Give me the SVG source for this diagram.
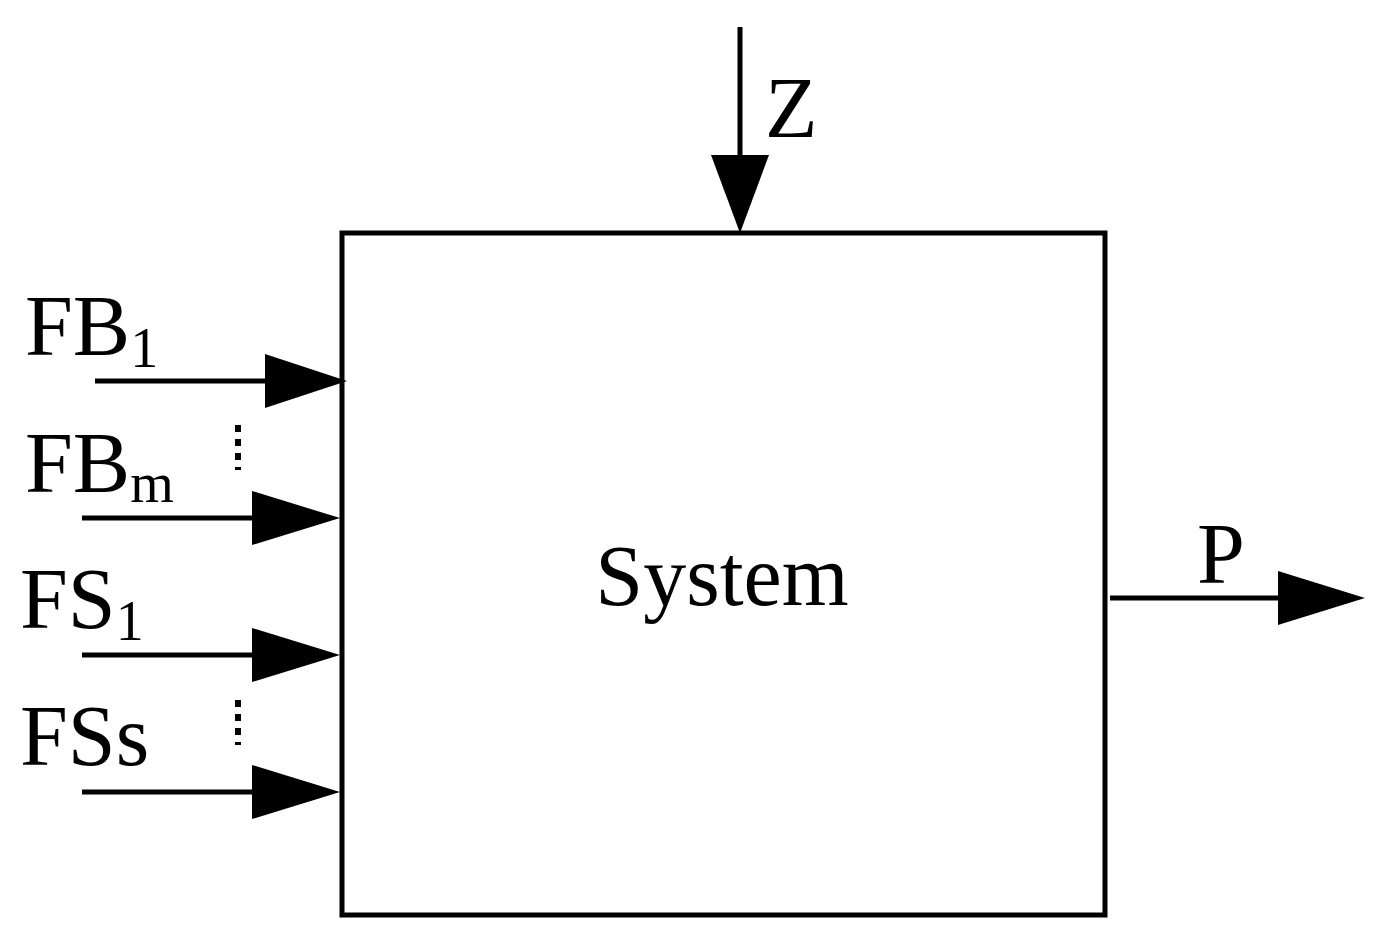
<svg xmlns="http://www.w3.org/2000/svg" width="1392" height="940" viewBox="0 0 1392 940">
<style>
.t{font-family:"Liberation Serif",serif;font-size:86px;fill:#000}
.s{font-size:56px}
.l{stroke:#000;stroke-width:5;fill:none}
.d{stroke:#000;stroke-width:6;stroke-dasharray:7,7;fill:none}
</style>
<rect width="1392" height="940" fill="#fff"/>
<g id="system"><rect x="342" y="233" width="763" height="682" class="l"/><text class="t" x="722" y="605" text-anchor="middle">System</text></g>
<g id="connectors">
<line class="l" x1="95" y1="381" x2="268" y2="381"/><polygon points="265,354 347,381 265,408"/>
<line class="l" x1="82" y1="518" x2="255" y2="518"/><polygon points="252,491 340,518 252,545"/>
<line class="l" x1="82" y1="655" x2="255" y2="655"/><polygon points="252,628 340,655 252,682"/>
<line class="l" x1="82" y1="792" x2="255" y2="792"/><polygon points="252,765 340,792 252,819"/>
<line class="l" x1="740" y1="27" x2="740" y2="160"/><polygon points="711,155 740,233 769,155"/>
<line class="l" x1="1110" y1="598" x2="1282" y2="598"/><polygon points="1278,571 1365,598 1278,625"/>
<line class="d" x1="238" y1="425" x2="238" y2="470"/>
<line class="d" x1="238" y1="700" x2="238" y2="745"/>
</g>
<g id="labels">
<text class="t" x="25" y="355">FB<tspan class="s" dy="12">1</tspan></text>
<text class="t" x="25" y="492">FB<tspan class="s" dy="10">m</tspan></text>
<text class="t" x="20" y="628">FS<tspan class="s" dy="12">1</tspan></text>
<text class="t" x="20" y="765">FSs</text>
<text class="t" x="765" y="137">Z</text>
<text class="t" x="1197" y="583">P</text>
</g>
</svg>
